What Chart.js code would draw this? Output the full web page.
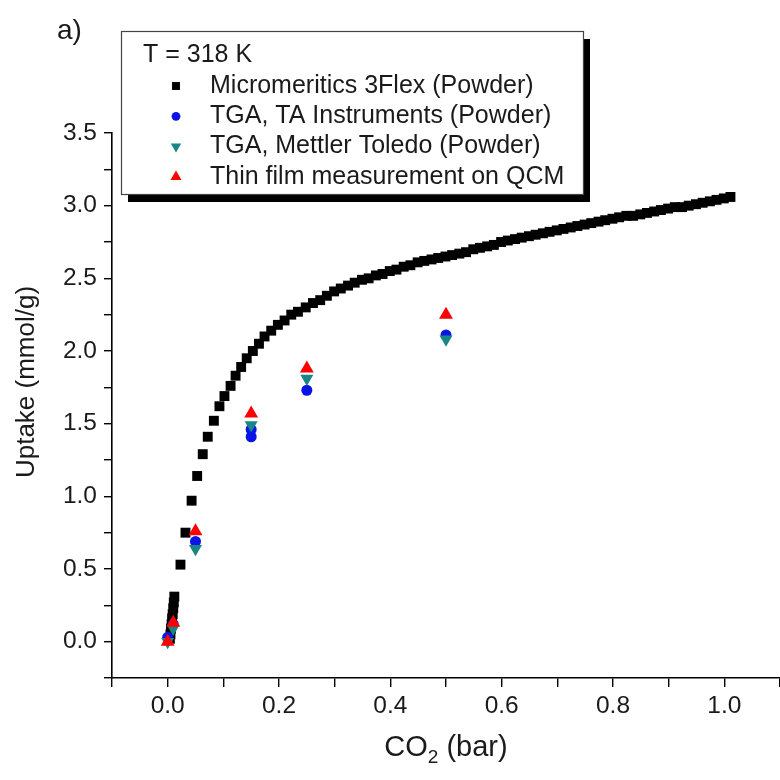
<!DOCTYPE html>
<html>
<head>
<meta charset="utf-8">
<script src="https://cdn.jsdelivr.net/npm/chart.js@4.4.1/dist/chart.umd.min.js"></script>
<style>
  html, body { margin: 0; padding: 0; background: #fff; overflow: hidden; }
  #wrap { width: 780px; height: 780px; overflow: hidden; }
  #c { display: block; }
</style>
</head>
<body>
<div id="wrap"><canvas id="c" width="788" height="780"></canvas></div>
<script>
// CO2 uptake isotherm at 318 K: volumetric, gravimetric and QCM thin-film data
// The canvas is a little wider than its frame so the x axis runs to the frame's right edge.

const legendTitle = 'T = 318 K';

// Micromeritics 3Flex (powder), pressure in bar and uptake in mmol/g
const flexP = [
  0.004, 0.005, 0.006, 0.007, 0.008, 0.009, 0.010, 0.011, 0.012,
  0.023, 0.032, 0.043, 0.053, 0.063, 0.072, 0.083, 0.093,
  0.102, 0.113, 0.122, 0.132, 0.142, 0.153, 0.164, 0.174, 0.186, 0.198,
  0.210, 0.222, 0.234, 0.248, 0.261, 0.274, 0.286, 0.299, 0.311, 0.324,
  0.336, 0.349, 0.361, 0.374, 0.386, 0.399, 0.411, 0.424, 0.436, 0.449,
  0.461, 0.474, 0.486, 0.499, 0.511, 0.524, 0.536, 0.549, 0.561, 0.574,
  0.586, 0.599, 0.611, 0.624, 0.636, 0.649, 0.661, 0.674, 0.686, 0.699,
  0.711, 0.724, 0.736, 0.749, 0.761, 0.774, 0.786, 0.799, 0.811, 0.824,
  0.836, 0.849, 0.861, 0.874, 0.886, 0.899, 0.911, 0.924, 0.936, 0.949,
  0.961, 0.974, 0.986, 0.999, 1.011
];
const flexUptake = [
  0.02, 0.05, 0.09, 0.12, 0.16, 0.19, 0.23, 0.27, 0.31,
  0.53, 0.75, 0.97, 1.14, 1.29, 1.41, 1.52, 1.62,
  1.69, 1.76, 1.83, 1.89, 1.95, 2.00, 2.05, 2.10, 2.14, 2.18,
  2.21, 2.25, 2.27, 2.30, 2.33, 2.35, 2.38, 2.41, 2.43, 2.45,
  2.47, 2.49, 2.50, 2.52, 2.53, 2.55, 2.56, 2.58, 2.59, 2.61,
  2.62, 2.63, 2.64, 2.65, 2.66, 2.67, 2.68, 2.70, 2.71, 2.72,
  2.73, 2.75, 2.76, 2.77, 2.78, 2.79, 2.80, 2.81, 2.82, 2.83,
  2.84, 2.85, 2.86, 2.87, 2.88, 2.89, 2.90, 2.91, 2.92, 2.93,
  2.93, 2.94, 2.95, 2.96, 2.97, 2.98, 2.99, 2.99, 3.00, 3.01,
  3.02, 3.03, 3.04, 3.05, 3.06
];

// TGA, TA Instruments (powder)
const taP = [0.0, 0.01, 0.05, 0.15, 0.15, 0.25, 0.5];
const taUptake = [0.03, 0.12, 0.69, 1.41, 1.46, 1.73, 2.11];

// TGA, Mettler Toledo (powder)
const mtP = [0.0, 0.01, 0.05, 0.15, 0.25, 0.5];
const mtUptake = [0.0, 0.09, 0.64, 1.49, 1.81, 2.08];

// Thin film on QCM
const qcmP = [0.0, 0.01, 0.05, 0.15, 0.25, 0.5];
const qcmUptake = [0.0, 0.13, 0.76, 1.57, 1.88, 2.25];

const seriesLabels = [
  'Micromeritics 3Flex (Powder)',
  'TGA, TA Instruments (Powder)',
  'TGA, Mettler Toledo (Powder)',
  'Thin film measurement on QCM'
];

const FONT = '"Liberation Sans", Arial, sans-serif';
const INK = '#1a1a1a';

const toPoints = (xs, ys) => xs.map((x, i) => ({ x: x, y: ys[i] }));

function series(label, xs, ys, color, style, radius, rotation, order) {
  return {
    label: label,
    data: toPoints(xs, ys),
    backgroundColor: color,
    borderColor: color,
    pointStyle: style,
    pointRadius: radius,
    pointHoverRadius: radius,
    pointRotation: rotation,
    pointBorderWidth: 0,
    showLine: false,
    order: order
  };
}

// boxed legend with drop shadow, and the free text labels
const annotate = {
  id: 'annotate',
  afterDraw(chart) {
    const ctx = chart.ctx;
    ctx.save();

    const bx = 121, by = 31, bw = 462, bh = 163;
    ctx.fillStyle = '#000';
    ctx.fillRect(bx + 7, by + 8, bw, bh);
    ctx.fillStyle = '#fff';
    ctx.fillRect(bx, by, bw, bh);
    ctx.strokeStyle = '#444';
    ctx.lineWidth = 1.2;
    ctx.strokeRect(bx + 0.5, by + 0.5, bw, bh);

    ctx.font = '25px ' + FONT;
    ctx.textBaseline = 'middle';
    ctx.textAlign = 'left';
    ctx.fillStyle = INK;
    ctx.fillText(legendTitle, 143, 55);

    chart.data.datasets.forEach((ds, i) => {
      const y = 86 + i * 30.3;
      ctx.fillStyle = ds.backgroundColor;
      ctx.strokeStyle = ds.borderColor;
      Chart.helpers.drawPoint(ctx, {
        pointStyle: ds.pointStyle,
        radius: ds.pointRadius * 0.8,
        rotation: ds.pointRotation || 0,
        borderWidth: 0
      }, 176, y);
      ctx.fillStyle = INK;
      ctx.fillText(ds.label, 210, y);
    });

    // panel letter
    ctx.font = '28px ' + FONT;
    ctx.fillText('a)', 57, 31);

    // x axis title with subscript
    const xa = chart.scales.x;
    const cx = (xa.left + xa.right) / 2;
    const base = 756;
    const big = '29px ' + FONT, small = '19px ' + FONT;
    ctx.textBaseline = 'alphabetic';
    ctx.font = big;
    const w1 = ctx.measureText('CO').width;
    const w3 = ctx.measureText(' (bar)').width;
    ctx.font = small;
    const w2 = ctx.measureText('2').width;
    const x0 = cx - (w1 + w2 + w3) / 2;
    ctx.font = big;
    ctx.fillText('CO', x0, base);
    ctx.font = small;
    ctx.fillText('2', x0 + w1, base + 7);
    ctx.font = big;
    ctx.fillText(' (bar)', x0 + w1 + w2, base);

    // y axis title
    ctx.translate(27, 382);
    ctx.rotate(-Math.PI / 2);
    ctx.textAlign = 'center';
    ctx.textBaseline = 'middle';
    ctx.font = '26px ' + FONT;
    ctx.fillText('Uptake (mmol/g)', 0, 0);

    ctx.restore();
  }
};

const axisBorder = { display: true, color: '#000', width: 1.6 };
const axisGrid = {
  drawOnChartArea: false,
  drawTicks: true,
  color: '#000',
  lineWidth: 1.4,
  tickLength: 9
};

new Chart(document.getElementById('c'), {
  type: 'scatter',
  data: {
    datasets: [
      series(seriesLabels[0], flexP, flexUptake, '#000000', 'rect', 7, 0, 4),
      series(seriesLabels[1], taP, taUptake, '#0a14e6', 'circle', 5.5, 0, 3),
      series(seriesLabels[2], mtP, mtUptake, '#1a8585', 'triangle', 7.5, 180, 2),
      series(seriesLabels[3], qcmP, qcmUptake, '#ff0000', 'triangle', 8, 0, 1)
    ]
  },
  options: {
    responsive: false,
    animation: false,
    devicePixelRatio: 1,
    layout: { padding: { top: 133, right: 0, bottom: 0, left: 0 } },
    plugins: {
      legend: { display: false },
      tooltip: { enabled: false },
      title: { display: false }
    },
    scales: {
      x: {
        type: 'linear',
        min: -0.1,
        max: 1.1,
        border: axisBorder,
        grid: axisGrid,
        ticks: {
          stepSize: 0.1,
          autoSkip: false,
          maxRotation: 0,
          padding: 5,
          color: INK,
          font: { family: FONT, size: 24.5 },
          callback: v => (Math.abs(Math.round(v * 10)) % 2 === 0 ? (Math.round(v * 10) / 10).toFixed(1) : '')
        },
        afterFit: s => { s.height = 102; }
      },
      y: {
        type: 'linear',
        min: -0.25,
        max: 3.5,
        border: axisBorder,
        grid: Object.assign({}, axisGrid, { tickLength: 8 }),
        ticks: {
          stepSize: 0.25,
          autoSkip: false,
          padding: 7,
          color: INK,
          font: { family: FONT, size: 24.5 },
          callback: v => (Math.abs(Math.round(v * 4)) % 2 === 0 ? (Math.round(v * 4) / 4).toFixed(1) : '')
        },
        afterFit: s => { s.width = 112; }
      }
    }
  },
  plugins: [annotate]
});
</script>
</body>
</html>
